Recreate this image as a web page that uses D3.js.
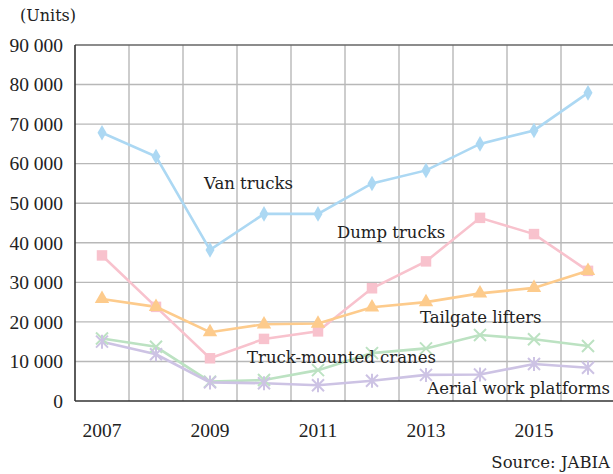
<!DOCTYPE html>
<html>
<head>
<meta charset="utf-8">
<script src="https://cdn.jsdelivr.net/npm/d3@7"></script>
<style>
  body { margin: 0; background: #fff; }
</style>
</head>
<body>
<script>
'use strict';

// chart data
const years = [2007, 2008, 2009, 2010, 2011, 2012, 2013, 2014, 2015, 2016];
const vanTrucks = [67800, 61800, 38200, 47300, 47300, 55000, 58300, 65000, 68400, 77900];
const dumpTrucks = [36800, 23800, 10800, 15700, 17600, 28500, 35300, 46300, 42200, 32900];
const tailgateLifters = [25800, 23800, 17400, 19400, 19600, 23700, 25000, 27200, 28600, 32900];
const truckCranes = [15800, 13700, 4900, 5300, 7800, 12100, 13300, 16700, 15600, 13900];
const aerialPlatforms = [15000, 11800, 4700, 4500, 4000, 5100, 6600, 6700, 9350, 8400];
const yTicks = [0, 10000, 20000, 30000, 40000, 50000, 60000, 70000, 80000, 90000];
const xTickYears = [2007, 2009, 2011, 2013, 2015];

(function() {

  const series = [
    { name: "Van trucks", values: vanTrucks, color: "#acd8f3", marker: "diamond" },
    { name: "Dump trucks", values: dumpTrucks, color: "#f8c2cd", marker: "square" },
    { name: "Tailgate lifters", values: tailgateLifters, color: "#fdcb8c", marker: "triangle" },
    { name: "Truck-mounted cranes", values: truckCranes, color: "#bce2c2", marker: "cross" },
    { name: "Aerial work platforms", values: aerialPlatforms, color: "#cdc3e4", marker: "star" }
  ];

  const width = 613, height = 474;
  const plotLeft = 75, plotRight = 615, plotTop = 45, plotBottom = 401;
  const digitFont = "Liberation Serif";
  const labelFont = "DejaVu Serif";
  const ink = "#222";

  const svg = d3.select("body").append("svg")
    .attr("width", width)
    .attr("height", height);

  const x = d3.scaleBand().domain(years).range([plotLeft, plotRight]).padding(0);
  const y = d3.scaleLinear().domain([0, 90000]).range([plotBottom, plotTop]);
  const cx = (yr) => x(yr) + x.bandwidth() / 2;

  // gridlines
  const grid = svg.append("g").attr("stroke", "#b8b8b8").attr("stroke-width", 1.4);
  grid.selectAll(".hg").data(yTicks.slice(1, -1)).enter().append("line")
    .attr("x1", plotLeft).attr("x2", plotRight)
    .attr("y1", (d) => y(d)).attr("y2", (d) => y(d));
  grid.selectAll(".vg").data(years.slice(1)).enter().append("line")
    .attr("x1", (d) => x(d)).attr("x2", (d) => x(d))
    .attr("y1", plotTop).attr("y2", plotBottom);

  // frame
  svg.append("line").attr("x1", plotLeft).attr("x2", plotRight).attr("y1", plotTop).attr("y2", plotTop)
    .attr("stroke", "#666").attr("stroke-width", 1.4);
  svg.append("line").attr("x1", plotLeft).attr("x2", plotLeft).attr("y1", plotTop).attr("y2", plotBottom)
    .attr("stroke", "#333").attr("stroke-width", 1.6);
  svg.append("line").attr("x1", plotLeft).attr("x2", plotRight).attr("y1", plotBottom).attr("y2", plotBottom)
    .attr("stroke", "#333").attr("stroke-width", 1.6);

  // y tick labels
  const fmt = (v) => v === 0 ? "0" : d3.format(",")(v).replace(",", " ");
  svg.selectAll(".ytl").data(yTicks).enter().append("text")
    .attr("x", 63)
    .attr("y", (d) => y(d))
    .attr("dy", "0.35em")
    .attr("text-anchor", "end")
    .attr("font-family", digitFont)
    .attr("font-size", 19.5)
    .attr("fill", ink)
    .text(fmt);

  // x tick labels
  svg.selectAll(".xtl").data(xTickYears).enter().append("text")
    .attr("x", (d) => cx(d))
    .attr("y", 430)
    .attr("dy", "0.35em")
    .attr("text-anchor", "middle")
    .attr("font-family", digitFont)
    .attr("font-size", 19.5)
    .attr("fill", ink)
    .text((d) => d);

  svg.append("text")
    .attr("x", 20).attr("y", 15).attr("dy", "0.35em")
    .attr("font-family", labelFont)
    .attr("font-size", 16)
    .attr("fill", ink)
    .text("(Units)");

  svg.append("text")
    .attr("x", 610).attr("y", 462).attr("dy", "0.35em")
    .attr("text-anchor", "end")
    .attr("font-family", labelFont)
    .attr("font-size", 16.5)
    .attr("fill", ink)
    .text("Source: JABIA");

  // lines
  const line = d3.line()
    .x((d, i) => cx(years[i]))
    .y((d) => y(d));

  series.forEach((s) => {
    svg.append("path")
      .attr("d", line(s.values))
      .attr("fill", "none")
      .attr("stroke", s.color)
      .attr("stroke-width", 2.6);
  });

  // markers
  function markerPath(type) {
    if (type === "diamond") return d3.symbol(d3.symbolDiamond, 70)();
    if (type === "square") return d3.symbol(d3.symbolSquare, 110)();
    if (type === "triangle") return d3.symbol(d3.symbolTriangle, 90)();
    if (type === "cross") return "M-6,-6L6,6M-6,6L6,-6";
    return "M-6,-6L6,6M-6,6L6,-6M0,-7L0,7";
  }

  series.forEach((s) => {
    const filled = s.marker === "diamond" || s.marker === "square" || s.marker === "triangle";
    svg.append("g").selectAll("path").data(s.values).enter().append("path")
      .attr("transform", (d, i) => "translate(" + cx(years[i]) + "," + y(d) + ")")
      .attr("d", markerPath(s.marker))
      .attr("fill", filled ? s.color : "none")
      .attr("stroke", s.color)
      .attr("stroke-width", filled ? 0 : 2);
  });

  // series labels (placed in data space: band start of a year + offset, value)
  const labelSpots = [
    { text: "Van trucks", year: 2009, dx: 21, value: 53600, anchor: "start" },
    { text: "Dump trucks", year: 2011, dx: 46, value: 41200, anchor: "start" },
    { text: "Tailgate lifters", year: 2013, dx: 21, value: 19800, anchor: "start" },
    { text: "Truck-mounted cranes", year: 2010, dx: 10, value: 9530, anchor: "start" },
    { text: "Aerial work platforms", year: 2016, dx: 49, value: 1770, anchor: "end" }
  ];

  svg.selectAll(".lbl").data(labelSpots).enter().append("text")
    .attr("x", (d) => x(d.year) + d.dx)
    .attr("y", (d) => y(d.value))
    .attr("text-anchor", (d) => d.anchor)
    .attr("font-family", labelFont)
    .attr("font-size", 16.5)
    .attr("fill", ink)
    .text((d) => d.text);

})();
</script>
</body>
</html>
